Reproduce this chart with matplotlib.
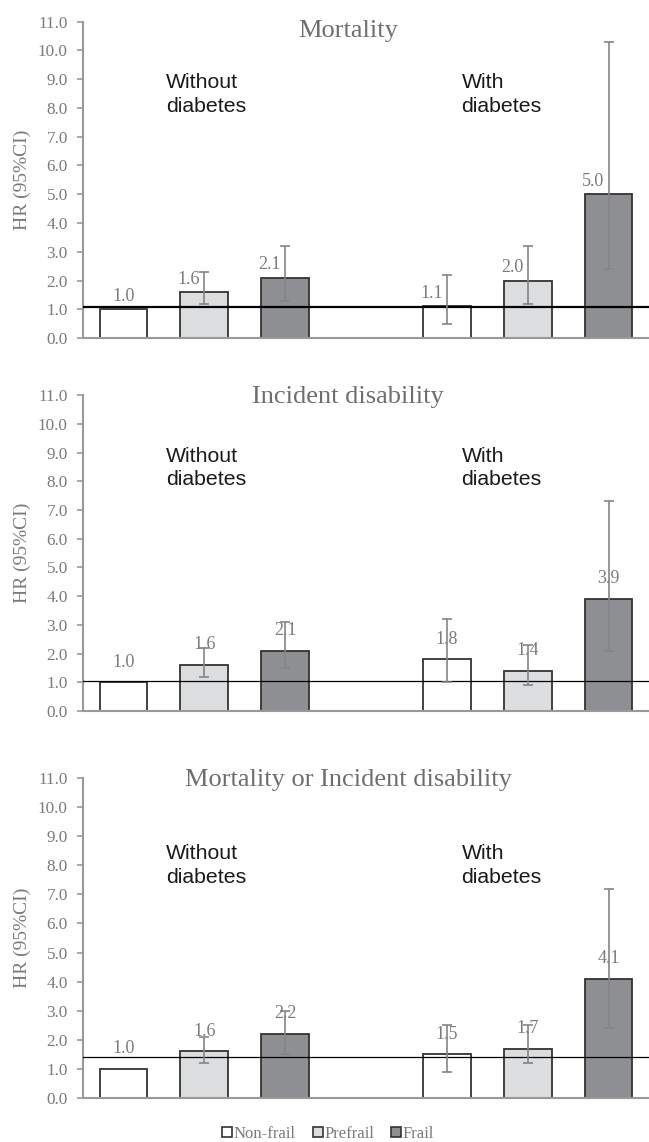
import numpy as np
import matplotlib
matplotlib.use("Agg")
import matplotlib.pyplot as plt
from matplotlib.patches import Patch

# data
groups = ["Non-frail", "Prefrail", "Frail"]
positions = [0, 1, 2, 4, 5, 6]
titles = ["Mortality", "Incident disability", "Mortality or Incident disability"]

hr_mort = [1.0, 1.6, 2.1, 1.1, 2.0, 5.0]
lo_mort = [np.nan, 1.2, 1.3, 0.5, 1.2, 2.4]
hi_mort = [np.nan, 2.3, 3.2, 2.2, 3.2, 10.3]

hr_dis = [1.0, 1.6, 2.1, 1.8, 1.4, 3.9]
lo_dis = [np.nan, 1.2, 1.5, 1.0, 0.9, 2.1]
hi_dis = [np.nan, 2.2, 3.1, 3.2, 2.3, 7.3]

hr_both = [1.0, 1.6, 2.2, 1.5, 1.7, 4.1]
lo_both = [np.nan, 1.2, 1.5, 0.9, 1.2, 2.4]
hi_both = [np.nan, 2.1, 3.0, 2.5, 2.5, 7.2]

ref_lines = [1.08, 1.06, 1.40]

colors = ["#ffffff", "#dcddde", "#8e8f92"]
gray = "#7a7a7a"

fig = plt.figure(figsize=(6.49, 11.42), dpi=100)
boxes = [(0.128, 0.704, 0.872, 0.277),
         (0.128, 0.3774, 0.872, 0.2766),
         (0.128, 0.0385, 0.872, 0.2802)]

panels = [(hr_mort, lo_mort, hi_mort), (hr_dis, lo_dis, hi_dis), (hr_both, lo_both, hi_both)]
title_y = [10.68, 10.92, 10.92]
note_y = [9.2, 9.2, 8.72]
ref_lw = [1.6, 0.9, 0.9]
# label offsets (dx, dy) per panel
lab_off = [(-0.19, 0.45), (0.0, 0.7), (0.0, 0.7)]

for k, (hr, lo, hi) in enumerate(panels):
    ax = fig.add_axes(boxes[k])
    hr = np.array(hr)
    lo = np.array(lo)
    hi = np.array(hi)
    cols = colors * 2
    ax.bar(positions, hr, width=0.59, color=cols, edgecolor="#333333", linewidth=1.3, zorder=2)
    yerr = np.vstack([hr - lo, hi - hr])
    ax.errorbar(positions, hr, yerr=yerr, fmt="none", ecolor="#858585", elinewidth=1.2,
                capsize=3.3, capthick=1.2, zorder=4)
    ax.axhline(ref_lines[k], color="black", linewidth=ref_lw[k], zorder=3)

    for i, (p, v) in enumerate(zip(positions, hr)):
        dx, dy = lab_off[k]
        if i == 0:
            dx = 0.0
        ax.text(p + dx, v + dy, f"{v:.1f}", ha="center", va="center", fontsize=13,
                family="Liberation Serif", color=gray, zorder=3)

    ax.text(2.78, title_y[k], titles[k], ha="center", va="center", fontsize=19,
            family="Liberation Serif", color="#6e6e6e")
    ax.text(0.53, note_y[k], "Without\ndiabetes", ha="left", va="top", fontsize=15.3,
            family="Liberation Sans", color="#1a1a1a", linespacing=1.3)
    ax.text(4.18, note_y[k], "With\ndiabetes", ha="left", va="top", fontsize=15.3,
            family="Liberation Sans", color="#1a1a1a", linespacing=1.3)

    ax.set_xlim(-0.5, 6.5)
    ax.set_ylim(0, 11)
    ax.set_yticks(np.arange(0, 12, 1))
    ax.set_yticklabels([f"{t:.1f}" for t in np.arange(0, 12, 1)], family="Liberation Serif",
                       fontsize=12.3, color=gray)
    ax.set_xticks([])
    ax.tick_params(axis="y", length=4, width=1.2, color="#999999", pad=7)
    for s in ["top", "right"]:
        ax.spines[s].set_visible(False)
    for s in ["left", "bottom"]:
        ax.spines[s].set_color("#999999")
        ax.spines[s].set_linewidth(1.5)
    ax.set_ylabel("HR (95%CI)", family="Liberation Serif", fontsize=14, color=gray, labelpad=5)
    ax.patch.set_alpha(0)

handles = [Patch(facecolor=c, edgecolor="#333333", linewidth=1.2) for c in colors]
fig.legend(handles, groups, loc="center", bbox_to_anchor=(328 / 649, 1 - 1134 / 1142),
           ncol=3, frameon=False, prop={"family": "Liberation Serif", "size": 12},
           handlelength=0.6, handleheight=0.6, handletextpad=0.1, columnspacing=1.0,
           labelcolor=gray)

fig.savefig("out.png", dpi=100)
